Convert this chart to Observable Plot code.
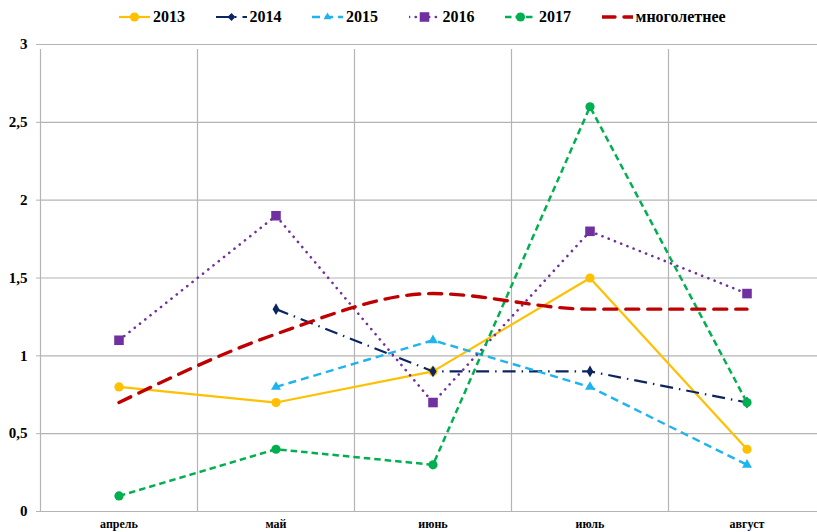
<!DOCTYPE html>
<html>
<head>
<meta charset="utf-8">
<script src="https://cdn.jsdelivr.net/npm/d3@7"></script>
<script src="https://cdn.jsdelivr.net/npm/@observablehq/plot@0.6"></script>
<style>
  html, body { margin: 0; padding: 0; background: #fff; overflow: hidden; }
  #legend { height: 34px; display: flex; justify-content: flex-start; align-items: center;
    font-family: "Liberation Serif", serif; font-weight: bold; font-size: 16px; color: #000; padding-left: 119px; box-sizing: border-box; }
  .item { display: flex; align-items: center; width: 96.5px; flex: none; white-space: nowrap; }
  .item svg { margin-right: 3px; flex: none; }
</style>
</head>
<body>
<div id="legend"></div>
<div id="chart"></div>
<script>
const months = ["апрель", "май", "июнь", "июль", "август"];
const yTicks = [0, 0.5, 1, 1.5, 2, 2.5, 3];
const seriesNames = ["2013", "2014", "2015", "2016", "2017", "многолетнее"];
const v2013 = [0.8, 0.7, 0.9, 1.5, 0.4];
const v2014 = [null, 1.3, 0.9, 0.9, 0.7];
const v2015 = [null, 0.8, 1.1, 0.8, 0.3];
const v2016 = [1.1, 1.9, 0.7, 1.8, 1.4];
const v2017 = [0.1, 0.4, 0.3, 2.6, 0.7];
const vLong = [0.7, 1.14, 1.4, 1.3, 1.3];

const styles = {
  "2013": {color: "#FFC000", dash: null, width: 2.2, symbol: "circle", r: 4.6, curve: "linear"},
  "2014": {color: "#0B2561", dash: "13,6,1.5,6", width: 2.2, symbol: "diamond", r: 3.6, curve: "linear"},
  "2015": {color: "#1EB4EE", dash: "8,5", width: 2.4, symbol: "triangle", r: 3.7, curve: "linear"},
  "2016": {color: "#7030A0", dash: "0.1,6.6", width: 2.6, symbol: "square", r: 5.4, curve: "linear", cap: "round"},
  "2017": {color: "#00B050", dash: "6.5,4", width: 2.5, symbol: "circle", r: 4.6, curve: "linear"},
  "многолетнее": {color: "#C00000", dash: "13,9", width: 3.4, symbol: null, r: 0, curve: "monotone-x", cap: "round"}
};
const values = {"2013": v2013, "2014": v2014, "2015": v2015, "2016": v2016, "2017": v2017, "многолетнее": vLong};

const fmt = d => String(d).replace(".", ",");
const idx = months.map((m, i) => i);
const bounds = months.map((m, i) => i - 0.5).concat([months.length - 0.5]);

const marks = [
  Plot.ruleY(yTicks, {y: d => d, stroke: "#b4b4b4", strokeWidth: 1.2}),
  Plot.ruleX(bounds, {x: d => d, y1: 0, y2: 3, stroke: "#b4b4b4", strokeWidth: 1.2, insetBottom: -5}),
  Plot.axisY(yTicks, {tickSize: 4, tickPadding: 9, tickFormat: fmt, stroke: "#b4b4b4", label: null,
    fontFamily: "Liberation Serif", fontWeight: "bold", fontSize: 15, fill: "#000"}),
  Plot.axisX(idx, {tickSize: 0, tickPadding: 8, tickFormat: i => months[i], label: null,
    fontFamily: "Liberation Serif", fontWeight: "bold", fontSize: 12, fill: "#000"})
];

for (const name of seriesNames) {
  const s = styles[name];
  const data = values[name].map((v, i) => ({i, v})).filter(d => d.v != null);
  marks.push(Plot.line(data, {x: "i", y: "v", stroke: s.color, strokeWidth: s.width,
    strokeDasharray: s.dash, curve: s.curve, strokeLinecap: s.cap || "butt", strokeLinejoin: "round"}));
  if (s.symbol) {
    marks.push(Plot.dot(data, {x: "i", y: "v", symbol: s.symbol, r: s.r, fill: s.color, stroke: "none"}));
  }
}

const chart = Plot.plot({
  width: 817,
  height: 498,
  marginLeft: 40,
  marginRight: 0,
  marginTop: 10,
  marginBottom: 21,
  x: {type: "linear", domain: [-0.5, 4.5], range: [40, 825], axis: null},
  y: {domain: [0, 3], range: [477, 10], axis: null},
  style: {background: "#fff", overflow: "hidden"},
  marks
});
document.getElementById("chart").appendChild(chart);

// Legend
const legend = document.getElementById("legend");
const symbolPaths = {
  circle: r => d3.symbol(d3.symbolCircle, Math.PI * r * r)(),
  diamond: r => d3.symbol(d3.symbolDiamond2, Math.PI * r * r)(),
  triangle: r => d3.symbol(d3.symbolTriangle2, Math.PI * r * r)(),
  square: r => d3.symbol(d3.symbolSquare, Math.PI * r * r)()
};
for (const name of seriesNames) {
  const s = styles[name];
  const item = document.createElement("div");
  item.className = "item";
  const ns = "http://www.w3.org/2000/svg";
  const svg = document.createElementNS(ns, "svg");
  svg.setAttribute("width", 31);
  svg.setAttribute("height", 12);
  const line = document.createElementNS(ns, "line");
  line.setAttribute("x1", 0); line.setAttribute("x2", 31);
  line.setAttribute("y1", 6); line.setAttribute("y2", 6);
  line.setAttribute("stroke", s.color);
  line.setAttribute("stroke-width", s.width);
  if (s.dash) line.setAttribute("stroke-dasharray", s.dash);
  if (s.cap) line.setAttribute("stroke-linecap", s.cap);
  svg.appendChild(line);
  if (s.symbol) {
    const p = document.createElementNS(ns, "path");
    p.setAttribute("d", symbolPaths[s.symbol](s.r));
    p.setAttribute("transform", "translate(15.5,6)");
    p.setAttribute("fill", s.color);
    svg.appendChild(p);
  }
  item.appendChild(svg);
  const t = document.createElement("span");
  t.textContent = name;
  item.appendChild(t);
  legend.appendChild(item);
}
</script>
</body>
</html>
